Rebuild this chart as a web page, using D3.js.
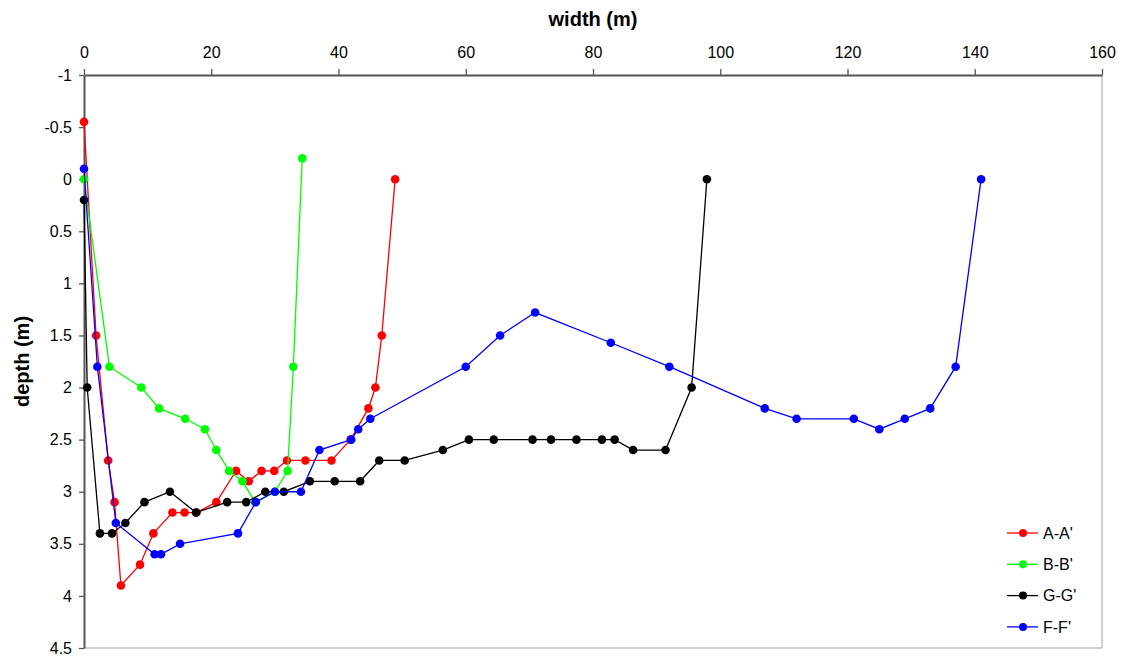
<!DOCTYPE html>
<html>
<head>
<meta charset="utf-8">
<script src="https://cdn.jsdelivr.net/npm/d3@7"></script>
<style>
  html, body { margin: 0; padding: 0; background: #fff; }
  svg { display: block; }
</style>
</head>
<body>
<div id="chart"></div>
<script>
// Cross-section profiles: width (m) vs depth (m)
const seriesNames = ["A-A'", "B-B'", "G-G'", "F-F'"];
const seriesColors = ["#ff0000", "#00ff00", "#000000", "#0000ff"];

const aaWidth = [0, 1.9, 3.8, 4.8, 5.8, 8.8, 10.9, 13.9, 15.8, 17.7, 20.8, 23.9, 25.9, 27.9, 29.9, 31.9, 34.8, 38.9, 41.9, 44.7, 45.8, 46.8, 48.9];
const aaDepth = [-0.55, 1.5, 2.7, 3.1, 3.9, 3.7, 3.4, 3.2, 3.2, 3.2, 3.1, 2.8, 2.9, 2.8, 2.8, 2.7, 2.7, 2.7, 2.5, 2.2, 2.0, 1.5, 0];

const bbWidth = [0, 4.0, 9.0, 11.8, 15.9, 19.0, 20.8, 22.8, 24.9, 26.9, 30.0, 32.0, 32.9, 34.3];
const bbDepth = [0, 1.8, 2.0, 2.2, 2.3, 2.4, 2.6, 2.8, 2.9, 3.1, 3.0, 2.8, 1.8, -0.2];

const ggWidth = [0, 0.5, 2.5, 4.4, 6.5, 9.5, 13.5, 17.6, 22.5, 25.5, 28.5, 31.4, 35.5, 39.4, 43.4, 46.4, 50.4, 56.4, 60.5, 64.4, 70.5, 73.4, 77.4, 81.4, 83.4, 86.3, 91.4, 95.5, 97.9];
const ggDepth = [0.2, 2.0, 3.4, 3.4, 3.3, 3.1, 3.0, 3.2, 3.1, 3.1, 3.0, 3.0, 2.9, 2.9, 2.9, 2.7, 2.7, 2.6, 2.5, 2.5, 2.5, 2.5, 2.5, 2.5, 2.5, 2.6, 2.6, 2.0, 0];

const ffWidth = [0, 2.1, 5.0, 11.1, 12.1, 15.1, 24.2, 27.0, 30.0, 34.1, 37.0, 42.0, 43.1, 45.0, 60.0, 65.4, 70.9, 82.8, 92.0, 107.0, 112.0, 121.0, 125.0, 129.0, 133.0, 137.0, 141.0];
const ffDepth = [-0.1, 1.8, 3.3, 3.6, 3.6, 3.5, 3.4, 3.1, 3.0, 3.0, 2.6, 2.5, 2.4, 2.3, 1.8, 1.5, 1.28, 1.57, 1.8, 2.2, 2.3, 2.3, 2.4, 2.3, 2.2, 1.8, 0];

const xTicks = [0, 20, 40, 60, 80, 100, 120, 140, 160];
const yTicks = [-1, -0.5, 0, 0.5, 1, 1.5, 2, 2.5, 3, 3.5, 4, 4.5];

const W = 1123, H = 659;
const plot = { left: 84, right: 1102, top: 75, bottom: 648 };

const series = [
  { name: seriesNames[0], color: seriesColors[0], xs: aaWidth, ys: aaDepth },
  { name: seriesNames[1], color: seriesColors[1], xs: bbWidth, ys: bbDepth },
  { name: seriesNames[2], color: seriesColors[2], xs: ggWidth, ys: ggDepth },
  { name: seriesNames[3], color: seriesColors[3], xs: ffWidth, ys: ffDepth }
].map(s => ({ ...s, points: s.xs.map((x, i) => [x, s.ys[i]]) }));

const svg = d3.select('#chart').append('svg')
  .attr('width', W)
  .attr('height', H);

const x = d3.scaleLinear().domain([0, 160]).range([plot.left, plot.right]);
const y = d3.scaleLinear().domain([-1, 4.5]).range([plot.top, plot.bottom]);

const font = "'Liberation Sans', Arial, sans-serif";

// plot border (right & bottom, light gray)
svg.append('path')
  .attr('d', `M${plot.left},${plot.bottom}H${plot.right}V${plot.top}`)
  .attr('fill', 'none')
  .attr('stroke', '#a6a6a6')
  .attr('stroke-width', 1);

// x axis (top)
const xAxis = svg.append('g')
  .attr('transform', `translate(0,${plot.top})`)
  .call(d3.axisTop(x).tickValues(xTicks).tickSize(6).tickSizeOuter(0).tickPadding(11).tickFormat(d => String(d)));

// y axis (left)
const yAxis = svg.append('g')
  .attr('transform', `translate(${plot.left},0)`)
  .call(d3.axisLeft(y).tickValues(yTicks).tickSize(5).tickSizeOuter(0).tickPadding(7).tickFormat(d => String(d)));

[xAxis, yAxis].forEach(a => {
  a.select('.domain').attr('stroke', '#555').attr('stroke-width', 2);
  a.selectAll('.tick line').attr('stroke', '#555').attr('stroke-width', 1.3);
  a.selectAll('.tick text')
    .attr('fill', '#000')
    .attr('font-family', font)
    .attr('font-size', '16px');
});

// axis titles
svg.append('text')
  .attr('x', (plot.left + plot.right) / 2)
  .attr('y', 26)
  .attr('text-anchor', 'middle')
  .attr('font-family', font)
  .attr('font-weight', 'bold')
  .attr('font-size', '20px')
  .text('width (m)');

svg.append('text')
  .attr('transform', `translate(29,${(plot.top + plot.bottom) / 2}) rotate(-90)`)
  .attr('text-anchor', 'middle')
  .attr('font-family', font)
  .attr('font-weight', 'bold')
  .attr('font-size', '20px')
  .text('depth (m)');

// series lines + markers
const line = d3.line().x(d => x(d[0])).y(d => y(d[1]));

series.forEach(s => {
  const g = svg.append('g');
  g.append('path')
    .attr('d', line(s.points))
    .attr('fill', 'none')
    .attr('stroke', s.color)
    .attr('stroke-width', 1.3);
  g.selectAll('circle')
    .data(s.points)
    .enter()
    .append('circle')
    .attr('cx', d => x(d[0]))
    .attr('cy', d => y(d[1]))
    .attr('r', 4.3)
    .attr('fill', s.color);
});

// legend
const legend = svg.append('g').attr('transform', 'translate(1007,533)');
series.forEach((s, i) => {
  const row = legend.append('g').attr('transform', `translate(0,${i * 31.3})`);
  row.append('line')
    .attr('x1', 0).attr('x2', 31)
    .attr('stroke', s.color)
    .attr('stroke-width', 1.3);
  row.append('circle')
    .attr('cx', 16)
    .attr('r', 4)
    .attr('fill', s.color);
  row.append('text')
    .attr('x', 36)
    .attr('dy', '0.35em')
    .attr('font-family', font)
    .attr('font-size', '16px')
    .text(s.name);
});
</script>
</body>
</html>
